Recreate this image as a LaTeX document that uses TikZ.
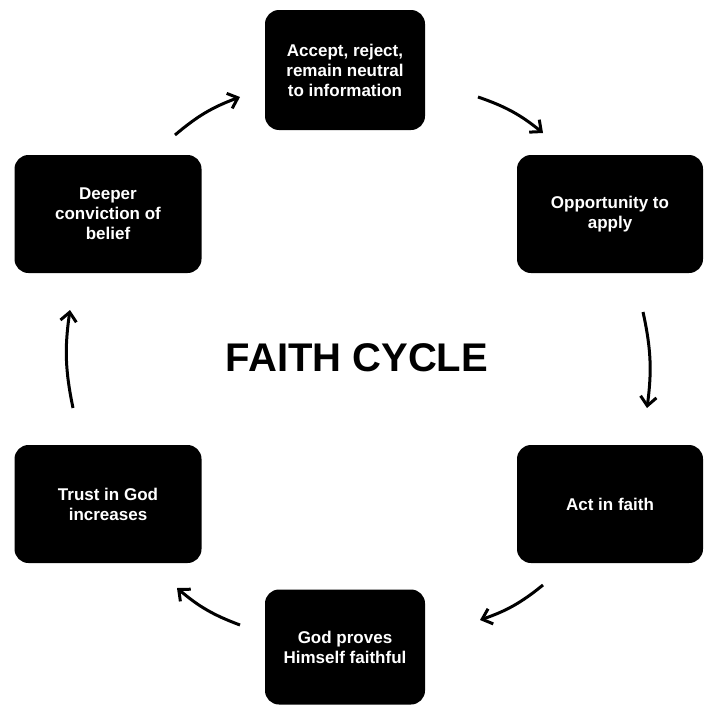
\documentclass[tikz,border=0pt]{standalone}
\usepackage{fontspec}
\setmainfont{Liberation Sans}
\usetikzlibrary{arrows.meta}
\begin{document}
\begin{tikzpicture}[x=1pt,y=-1pt,
  box/.style={fill=black,rounded corners=14pt,text=white,font=\bfseries\fontsize{17}{20}\selectfont,align=center,inner sep=0pt},
  arr/.style={line width=3pt,-{Straight Barb[length=9pt,width=16pt,line width=3pt]}}]
\useasboundingbox (0,0) rectangle (720,720);
\fill[white] (0,0) rectangle (720,720);
\node[box,minimum width=160pt,minimum height=120pt] (a) at (345,70) {Accept, reject,\\remain neutral\\to information};
\node[box,minimum width=186pt,minimum height=118pt] (b) at (610,214) {Opportunity to\\apply};
\node[box,minimum width=186pt,minimum height=118pt] (c) at (610,504) {Act in faith};
\node[box,minimum width=160pt,minimum height=115pt] (d) at (345,647) {God proves\\Himself faithful};
\node[box,minimum width=187pt,minimum height=118pt] (e) at (108,504) {Trust in God\\increases};
\node[box,minimum width=187pt,minimum height=118pt] (f) at (108,214) {Deeper\\conviction of\\belief};
\node[font=\bfseries\fontsize{40}{44}\selectfont] (t) at (357,358) {FAITH CYCLE};
\coordinate (f1) at (175,135); \coordinate (a0) at (240,97);
\coordinate (a1) at (478,97); \coordinate (b0) at (543,133);
\coordinate (b1) at (643,312); \coordinate (c0) at (647,408);
\coordinate (c1) at (543,585); \coordinate (d0) at (480,620);
\coordinate (d1) at (240,625); \coordinate (e0) at (177,588);
\coordinate (e1) at (73,408); \coordinate (f0) at (70,310);
\draw[arr] (f1) to[bend left=10] (a0);
\draw[arr] (a1) to[bend left=10] (b0);
\draw[arr] (b1) to[bend left=10] (c0);
\draw[arr] (c1) to[bend left=10] (d0);
\draw[arr] (d1) to[bend left=10] (e0);
\draw[arr] (e1) to[bend left=10] (f0);
\end{tikzpicture}
\end{document}
